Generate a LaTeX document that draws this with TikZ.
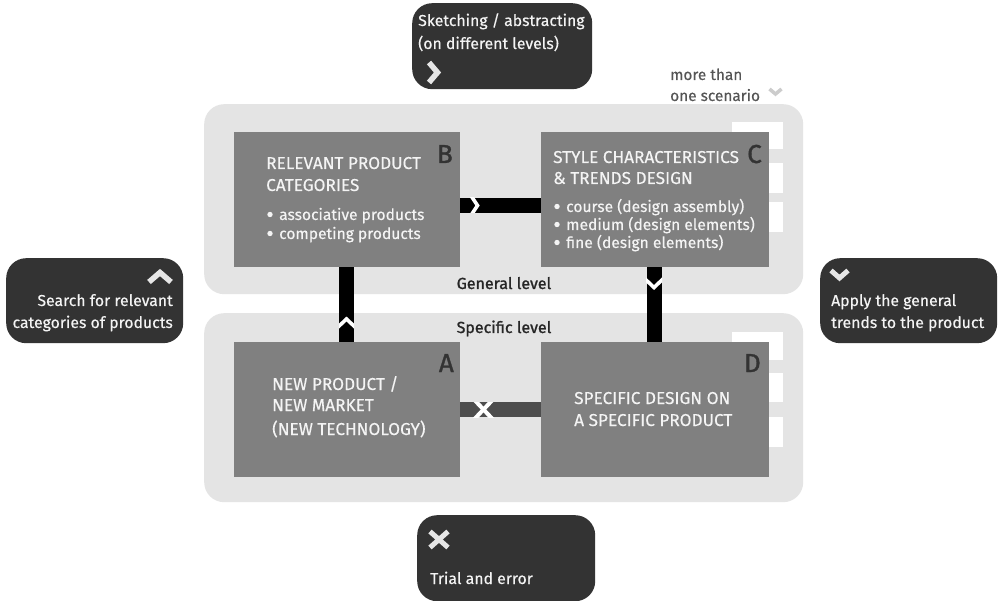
\documentclass[tikz,border=0pt]{standalone}
\usepackage{fontspec}
\setmainfont{Fira Sans}[FakeBold=0.35]
\newfontfamily\medfont{Fira Sans}[FakeBold=1.3]
\usetikzlibrary{calc}
\definecolor{panel}{HTML}{E4E4E4}
\definecolor{stagegray}{HTML}{808080}
\definecolor{legenddark}{HTML}{333333}
\definecolor{lighttext}{HTML}{F4F4F4}
\definecolor{lettergray}{HTML}{333333}
\definecolor{notegray}{HTML}{555555}
\definecolor{chevgray}{HTML}{E6E6E6}
\definecolor{trialbar}{HTML}{4D4D4D}
\begin{document}
\begin{tikzpicture}[x=1pt,y=-1pt,
  panelbox/.style={fill=panel, draw=none, rounded corners=20pt, inner sep=0pt, anchor=north west},
  stagebox/.style={fill=stagegray, draw=none, inner sep=0pt, anchor=north west, minimum height=135pt},
  legendbox/.style={fill=legenddark, draw=none, rounded corners=20pt, inner sep=0pt, anchor=north west},
  boxline/.style={anchor=base west, inner sep=0pt, text=lighttext, font=\fontsize{17.2}{19}\selectfont},
  bulletline/.style={anchor=base west, inner sep=0pt, text=lighttext, text height=11pt, text depth=3pt, font=\fontsize{15.6}{18}\selectfont},
  listdot/.style={fill=lighttext},
  legendline/.style={inner sep=0pt, text=lighttext, font=\fontsize{15.8}{18}\selectfont},
  letterlabel/.style={anchor=base east, inner sep=0pt, text=lettergray, font=\medfont\fontsize{26}{28}\selectfont},
  levellabel/.style={anchor=base, inner sep=0pt, text=black!85, font=\medfont\fontsize{16}{18}\selectfont},
  noteline/.style={anchor=base west, inner sep=0pt, text=notegray, font=\fontsize{15.4}{17}\selectfont},
  linkbar/.style={line width=15pt, line cap=butt, draw=black},
  notch/.style={line width=3.6pt, draw=white, line cap=butt, line join=miter},
  legendmark/.style={line width=5.5pt, draw=chevgray, line cap=butt, line join=miter}
]
\useasboundingbox (0,0) rectangle (998,601);
\fill[white] (0,0) rectangle (998,601);

% the two level panels
\node[panelbox, minimum width=599pt, minimum height=190pt] (general) at (204,104) {};
\node[panelbox, minimum width=599pt, minimum height=189pt] (specific) at (204,313) {};

% stacked scenario sheets behind C and D
\fill[white] (732,122) rectangle (783,149);
\fill[white] (732,163) rectangle (783,193);
\fill[white] (732,202) rectangle (783,232);
\fill[white] (732,332) rectangle (783,360);
\fill[white] (732,373) rectangle (783,402);
\fill[white] (732,417) rectangle (783,447);

% the four stages
\node[stagebox, minimum width=226pt] (B) at (234,132) {};
\node[stagebox, minimum width=228pt] (C) at (541,132) {};
\node[stagebox, minimum width=226pt] (A) at (234,342) {};
\node[stagebox, minimum width=228pt] (D) at (541,342) {};

% links between the stages
\draw[linkbar] ([yshift=-6pt]B.east) -- ([yshift=-6pt]C.west);
\draw[linkbar] ([xshift=-0.5pt]B.south) -- ([xshift=-0.5pt]B.south |- A.north);
\draw[linkbar] ([xshift=-0.5pt]C.south) -- ([xshift=-0.5pt]C.south |- D.north);
\draw[linkbar, draw=trialbar] (A.east) -- (D.west);

% white marks cut into the links
\begin{scope}
  \clip (460,198) rectangle (541,213);
  \draw[notch] (470.5,195) -- (477.5,205.5) -- (470.5,216);
\end{scope}
\begin{scope}
  \clip (339,267) rectangle (354,342);
  \draw[notch] (337,328) -- (346.5,319) -- (356,328);
\end{scope}
\begin{scope}
  \clip (646,267) rectangle (662,342);
  \draw[notch] (644,278) -- (654,287.5) -- (664,278);
\end{scope}
\begin{scope}
  \clip (460,402) rectangle (541,417);
  \draw[notch, line width=4pt] (474.5,400) -- (492.5,419);
  \draw[notch, line width=4pt] (492.5,400) -- (474.5,419);
\end{scope}

% stage letters
\node[letterlabel] (Blet) at (453,163) {B};
\node[letterlabel] (Clet) at (762,163) {C};
\node[letterlabel] (Alet) at (454,372) {A};
\node[letterlabel] (Dlet) at (761,372) {D};

% stage B text
\node[boxline] (B1) at (266,169) {RELEVANT PRODUCT};
\node[boxline] (B2) at (266,191) {CATEGORIES};
\node[bulletline] (B3) at (279,220) {associative products};
\node[bulletline] (B4) at (279,239) {competing products};
\fill[listdot] ($(B3.base west)+(-9,-5.5)$) circle (2.7pt);
\fill[listdot] ($(B4.base west)+(-9,-5.5)$) circle (2.7pt);

% stage C text
\node[boxline] (C1) at (553,163) {STYLE CHARACTERISTICS};
\node[boxline] (C2) at (553,184) {\& TRENDS DESIGN};
\node[bulletline] (C3) at (566,212) {course (design assembly)};
\node[bulletline] (C4) at (566,230) {medium (design elements)};
\node[bulletline] (C5) at (566,248) {fine (design elements)};
\fill[listdot] ($(C3.base west)+(-9,-5.5)$) circle (2.7pt);
\fill[listdot] ($(C4.base west)+(-9,-5.5)$) circle (2.7pt);
\fill[listdot] ($(C5.base west)+(-9,-5.5)$) circle (2.7pt);

% stage A text
\node[boxline] (A1) at (272,390) {NEW PRODUCT /};
\node[boxline] (A2) at (272,411) {NEW MARKET};
\node[boxline] (A3) at (272,435) {(NEW TECHNOLOGY)};

% stage D text
\node[boxline] (D1) at (574,404) {SPECIFIC DESIGN ON};
\node[boxline] (D2) at (574,426) {A SPECIFIC PRODUCT};

% level captions
\node[levellabel] (genlab) at (504,289) {General level};
\node[levellabel] (speclab) at (504,333) {Specific level};

% scenario note
\node[noteline] (note1) at (670,80) {more than};
\node[noteline] (note2) at (670,101) {one scenario};
\draw[legendmark, draw=black!20, line width=3.5pt] (769.5,89) -- (775.5,94) -- (781.5,89);

% legend: sketching / abstracting
\node[legendbox, minimum width=180pt, minimum height=86pt] (sketch) at (412,3) {};
\node[legendline, anchor=base west] (sk1) at (418,26) {Sketching / abstracting};
\node[legendline, anchor=base west] (sk2) at (418,49) {(on different levels)};
\draw[legendmark] (429,62.5) -- (437.5,72.5) -- (429,82.5);

% legend: search for relevant categories
\node[legendbox, minimum width=177pt, minimum height=85pt] (search) at (6,258) {};
\node[legendline, anchor=base east] (se1) at (173,306) {Search for relevant};
\node[legendline, anchor=base east] (se2) at (173,328) {categories of products};
\draw[legendmark] (149,282) -- (160,272.5) -- (171,282);

% legend: apply the general trends
\node[legendbox, minimum width=177pt, minimum height=85pt] (apply) at (820,258) {};
\node[legendline, anchor=base west] (ap1) at (831,306) {Apply the general};
\node[legendline, anchor=base west] (ap2) at (831,328) {trends to the product};
\draw[legendmark, line width=5pt] (831,270.5) -- (839.5,278) -- (848,270.5);

% legend: trial and error
\node[legendbox, minimum width=178pt, minimum height=86pt] (trial) at (417,515) {};
\node[legendline, anchor=base west] (tr1) at (430,584) {Trial and error};
\draw[legendmark, line width=5pt] (430,531.5) -- (448,547.5);
\draw[legendmark, line width=5pt] (430,547.5) -- (448,531.5);
\end{tikzpicture}
\end{document}
